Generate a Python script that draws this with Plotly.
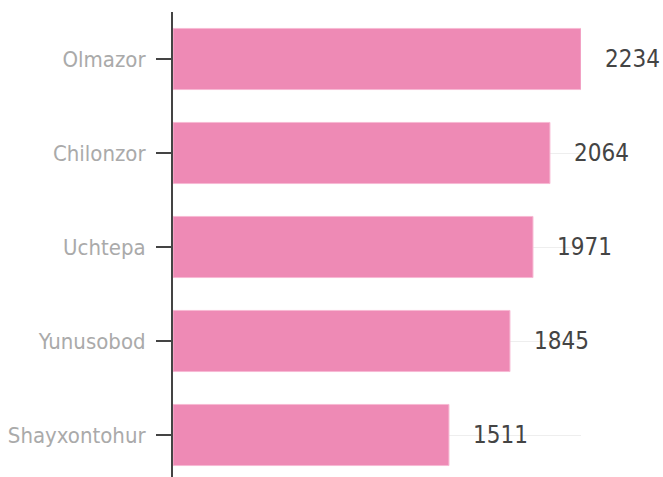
import plotly.graph_objects as go

districts = ["Olmazor", "Chilonzor", "Uchtepa", "Yunusobod", "Shayxontohur"]
values = [2234, 2064, 1971, 1845, 1511]
value_labels = ["2234", "2064", "1971", "1845", "1511"]

FONT = "DejaVu Sans Condensed, Roboto, sans-serif"

fig = go.Figure()
fig.add_trace(go.Bar(
    x=values, y=districts, orientation="h",
    marker=dict(color="#EE8AB5", line=dict(color="#F7B9D3", width=1)),
    hoverinfo="skip",
))

for d, v, t in zip(districts, values, value_labels):
    fig.add_annotation(
        x=v, y=d, text=t, showarrow=False, xanchor="left", yanchor="middle",
        xshift=22, font=dict(family=FONT, size=24, color="#444444"),
    )

fig.update_layout(
    width=663, height=482,
    margin=dict(l=173, r=82, t=12, b=0, autoexpand=False),
    paper_bgcolor="white", plot_bgcolor="white",
    bargap=0.35, showlegend=False,
    xaxis=dict(visible=False, range=[0, 2234], fixedrange=True, automargin=False),
    yaxis=dict(
        categoryorder="array", categoryarray=districts, autorange="reversed",
        automargin=False, fixedrange=True,
        showline=True, linecolor="#444444", linewidth=2,
        ticks="outside", ticklen=15, tickwidth=2, tickcolor="#444444",
        showgrid=True, gridcolor="#EEEEEE", gridwidth=1,
        tickfont=dict(family=FONT, size=22, color="#AAAAAA"),
        ticklabelstandoff=6,
    ),
)

fig.write_html(
    "out.html",
    config={"displayModeBar": False},
    post_script="document.body.style.margin='0';document.body.style.overflow='hidden';",
)
